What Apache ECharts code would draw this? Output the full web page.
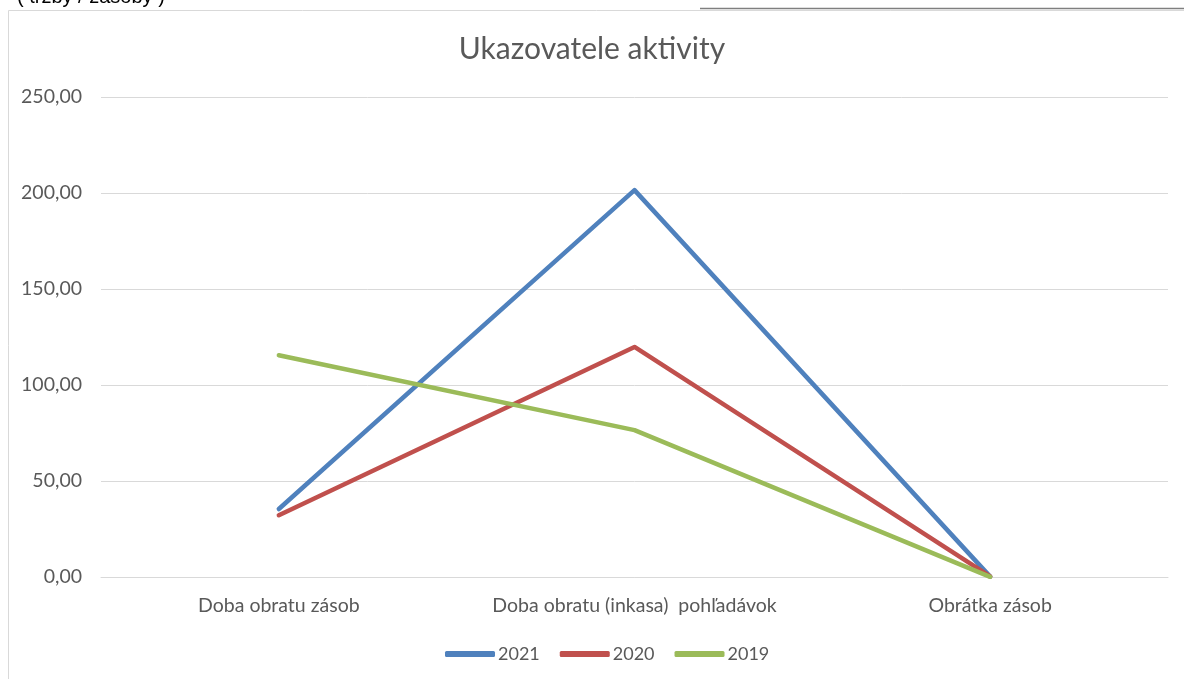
<!DOCTYPE html>
<html>
<head>
<meta charset="utf-8">
<script src="https://cdn.jsdelivr.net/npm/echarts@6/dist/echarts.min.js"></script>
<style>
html,body{margin:0;padding:0;background:#fff;}
#c{width:1184px;height:679px;}
</style>
</head>
<body>
<div id="c"></div>
<script>
const categories = ['Doba obratu zásob', 'Doba obratu (inkasa)  pohľadávok', 'Obrátka zásob'];
const s2021 = [35.4, 201.5, 0.2];
const s2020 = [32.2, 119.8, 0.3];
const s2019 = [115.5, 76.5, 0.1];
const yTicks = [0, 50, 100, 150, 200, 250];

const chart = echarts.init(document.getElementById('c'));
const font = 'Lato, "Open Sans", sans-serif';
const mk = (name, data, color) => ({
  name, type: 'line', data, symbol: 'none',
  lineStyle: {width: 4.5, color, cap: 'round', join: 'round'},
  itemStyle: {color}, animation: false
});
chart.setOption({
  animation: false,
  title: {
    text: 'Ukazovatele aktivity', left: 'center', top: 29,
    textStyle: {fontFamily: font, fontSize: 30, fontWeight: 'normal', color: '#595959'}
  },
  graphic: [
    {type: 'rect', shape: {x: 8.5, y: 10.5, width: 1200, height: 700}, style: {fill: 'none', stroke: '#d9d9d9', lineWidth: 1}},
    {type: 'line', shape: {x1: 700, y1: 8.5, x2: 1184, y2: 8.5}, style: {stroke: '#7f7f7f', lineWidth: 1.5}},
    {type: 'text', left: 17, top: -13, style: {text: '( tržby / zásoby )', fontFamily: 'Liberation Sans, Arial', fontSize: 20, fill: '#000'}}
  ],
  legend: {
    bottom: 11, left: 440,
    data: ['2021', '2020', '2019'],
    icon: 'roundRect', itemWidth: 50, itemHeight: 6, itemGap: 20,
    textStyle: {fontFamily: font, fontSize: 18, color: '#595959', padding: [0,0,0,-2]}
  },
  grid: {left: 101, right: 16, top: 97, bottom: 102, containLabel: false},
  xAxis: {
    type: 'category', data: categories, boundaryGap: true,
    axisLine: {show: true, lineStyle: {color: '#d9d9d9', width: 1}},
    axisTick: {show: false},
    axisLabel: {interval: 0, fontFamily: font, fontSize: 19.5, color: '#595959', margin: 19}
  },
  yAxis: {
    type: 'value', min: 0, max: 250, interval: 50,
    axisLine: {show: false}, axisTick: {show: false},
    splitLine: {lineStyle: {color: '#d9d9d9', width: 1}},
    axisLabel: {
      fontFamily: font, fontSize: 19.5, color: '#595959', margin: 19,
      formatter: v => yTicks.includes(v) ? v.toFixed(2).replace('.', ',') : ''
    }
  },
  series: [
    mk('2021', s2021, '#4f81bd'),
    mk('2020', s2020, '#c0504d'),
    mk('2019', s2019, '#9bbb59')
  ]
});
</script>
</body>
</html>
